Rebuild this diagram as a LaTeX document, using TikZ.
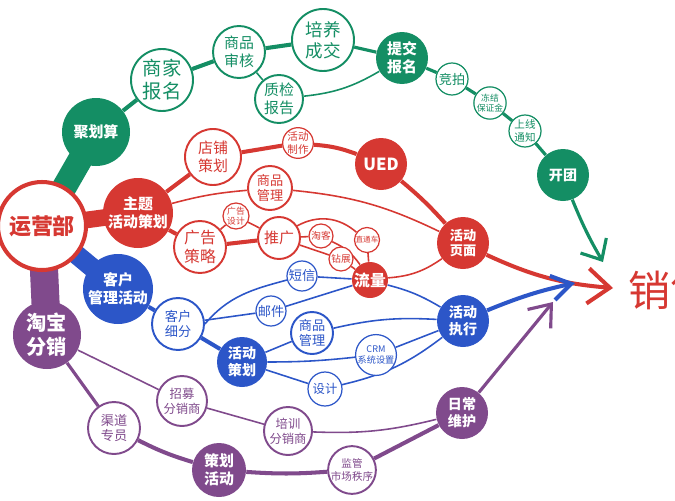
\documentclass[tikz,border=0pt]{standalone}
\usepackage{fontspec}
\setmainfont{Noto Sans CJK SC}
\usetikzlibrary{arrows.meta,backgrounds}

\definecolor{jgreen}{HTML}{148E64}
\definecolor{jred}{HTML}{D63832}
\definecolor{jblue}{HTML}{2C56C8}
\definecolor{jpurple}{HTML}{804A8C}

\tikzset{
    rr/.style={minimum size=#1*0.4mm},
    fs/.style={font=\fontsize{#1}{#1}\linespread{1.2}\selectfont},
    bfs/.style={font=\fontsize{#1}{#1}\linespread{1.2}\selectfont\bfseries},
    hub/.style={circle, draw=#1, line width=2.3pt, fill=white, text=#1, inner sep=0pt},
    full/.style={circle, fill=#1, text=white, inner sep=0pt, align=center},
    ring/.style={circle, draw=#1, line width=1.1pt, fill=white, text=#1, inner sep=0pt, align=center},
    dot/.style={circle, draw=#1, line width=0.7pt, fill=white, text=#1, inner sep=0pt, align=center},
    wfat/.style={line width=2.3pt},
    wmid/.style={line width=1.8pt},
    wslim/.style={line width=0.9pt}
}

\begin{document}
\begin{tikzpicture}[x=0.2mm,y=0.2mm]
        \useasboundingbox (0,0) rectangle (675,-500);

        % Hub
        \node[hub=jred, rr=44, bfs=12.5] (yyb) at (42,-226) {运营部};

        % Green branch
        \node[full=jgreen, rr=34, bfs=8.5] (jhs) at (96,-132) {聚划算};
        \node[ring=jgreen, rr=31, fs=11] (sjbm) at (162,-80) {商家\\报名};
        \node[ring=jgreen, rr=26, fs=8.5] (sphh) at (239,-52) {商品\\审核};
        \node[ring=jgreen, rr=31, fs=10] (pycj) at (323,-40) {培养\\成交};
        \node[full=jgreen, rr=26, bfs=8.5] (tjbm) at (402,-58) {提交\\报名};
        \node[ring=jgreen, rr=24, fs=8.5] (zjbg) at (279,-99) {质检\\报告};
        \node[dot=jgreen, rr=16, fs=7.5] (jp) at (452,-79) {竞拍};
        \node[dot=jgreen, rr=16, fs=5] (djbzj) at (490,-103) {冻结\\保证金};
        \node[dot=jgreen, rr=16, fs=6] (sxtz) at (525,-131) {上线\\通知};
        \node[full=jgreen, rr=26, bfs=8] (kt) at (563,-175) {开团};
        \coordinate (tipG) at (603,-262);

        % Red branch
        \node[full=jred, rr=35, bfs=8.5] (ztch) at (138,-213) {主题\\活动策划};
        \node[ring=jred, rr=28, fs=8.5] (dpch) at (213,-157) {店铺\\策划};
        \node[dot=jred, rr=15, fs=6] (hdzz) at (298,-143) {活动\\制作};
        \node[full=jred, rr=26, bfs=9.5] (ued) at (381,-164) {UED};
        \node[ring=jred, rr=22, fs=7.5] (spgl) at (270,-188) {商品\\管理};
        \node[dot=jred, rr=13, fs=5] (ggsj) at (236,-216) {广告\\设计};
        \node[ring=jred, rr=26, fs=9] (ggcl) at (200,-247) {广告\\策略};
        \node[ring=jred, rr=21, fs=8.5] (tg) at (279,-238) {推广};
        \node[dot=jred, rr=12, fs=5.5] (tk) at (321,-236) {淘客};
        \node[dot=jred, rr=12, fs=5.5] (zz) at (341,-259) {钻展};
        \node[dot=jred, rr=12.5, fs=4.3] (ztc) at (367,-240) {直通车};
        \node[full=jred, rr=18, bfs=9] (ll) at (370,-280) {流量};
        \node[full=jred, rr=26, bfs=7.5] (hdym) at (463,-243) {活动\\页面};
        \coordinate (tipR) at (613,-288);
        \node[anchor=west, text=jred, fs=24] (xs) at (622,-290) {销售};

        % Blue branch
        \node[full=jblue, rr=35, bfs=8.5] (khgl) at (118,-289) {客户\\管理活动};
        \node[ring=jblue, rr=26, fs=7.5] (khxf) at (178,-324) {客户\\细分};
        \node[full=jblue, rr=25, bfs=8] (hdch) at (242,-362) {活动\\策划};
        \node[dot=jblue, rr=15, fs=7.5] (dx) at (302,-276) {短信};
        \node[dot=jblue, rr=15, fs=7.5] (yj) at (271,-311) {邮件};
        \node[ring=jblue, rr=21, fs=7.5] (spglb) at (312,-333) {商品\\管理};
        \node[dot=jblue, rr=18, fs=5.2] (crm) at (376,-355) {CRM\\系统设置};
        \node[dot=jblue, rr=17, fs=7] (sj) at (325,-389) {设计};
        \node[full=jblue, rr=26, bfs=8] (hdzx) at (463,-321) {活动\\执行};
        \coordinate (tipB) at (575,-283);

        % Purple branch
        \node[full=jpurple, rr=34, bfs=11.5] (tbfx) at (47,-335) {淘宝\\分销};
        \node[ring=jpurple, rr=25, fs=7] (zmfxs) at (182,-401) {招募\\分销商};
        \node[ring=jpurple, rr=26, fs=7.5] (qdzy) at (114,-428) {渠道\\专员};
        \node[ring=jpurple, rr=24, fs=7] (pxfxs) at (288,-431) {培训\\分销商};
        \node[full=jpurple, rr=27, bfs=8.5] (chhd) at (219,-470) {策划\\活动};
        \node[ring=jpurple, rr=23, fs=6] (jgsc) at (352,-470) {监管\\市场秩序};
        \node[full=jpurple, rr=26, bfs=8] (rcwh) at (462,-413) {日常\\维护};
        \coordinate (tipP) at (553,-302);

        \begin{scope}[on background layer]
            % Trunks
            \draw[jgreen, line width=14pt] (yyb.center) -- (jhs.center);
            \draw[jred, line width=9.5pt] (yyb.center) -- (ztch.center);
            \draw[jblue, line width=11pt] (yyb.center) -- (khgl.center);
            \draw[jpurple, line width=16pt] (yyb.center) -- (tbfx.center);

            % Green links
            \draw[jgreen, wfat] (jhs) -- (sjbm) -- (sphh) -- (pycj);
            \draw[jgreen, wmid] (pycj) -- (tjbm) -- (jp) -- (djbzj) -- (sxtz) -- (kt);
            \draw[jgreen, wslim] (sphh) -- (zjbg);
            \draw[jgreen, wslim] (zjbg) to[bend right=12] (tjbm);
            \draw[jgreen, wmid, -{Straight Barb[length=9.5pt,width=17pt]}] (kt) to[bend right=4] (tipG);

            % Red links
            \draw[jred, wfat] (ztch) -- (dpch) -- (hdzz);
            \draw[jred, wfat] (hdzz) to[bend left=8] (ued);
            \draw[jred, wfat] (ued) to[bend left=4] (hdym);
            \draw[jred, wslim] (ztch) to[bend left=5] (spgl);
            \draw[jred, wslim] (spgl) to[bend left=10] (hdym);
            \draw[jred, wfat] (ztch) -- (ggcl) -- (tg);
            \draw[jred, wslim] (ggcl) -- (ggsj) -- (tg);
            \draw[jred, wslim] (tg) -- (tk);
            \draw[jred, wslim] (tk) to[bend left=15] (ll);
            \draw[jred, wslim] (tg) to[bend left=35] (ztc);
            \draw[jred, wslim] (ztc) -- (ll);
            \draw[jred, wslim] (tg) -- (zz) -- (ll);
            \draw[jred, wslim] (ll) to[bend right=15] (hdym);
            \draw[jred, wfat, -{Straight Barb[length=12.5pt,width=20pt]}] (hdym) to[bend right=10] (tipR);

            % Blue links
            \draw[jblue, wfat] (khgl) -- (khxf) -- (hdch);
            \draw[jblue, wslim] (khxf.east) to[out=50, in=195] (dx);
            \draw[jblue, wslim] (khxf) -- (yj);
            \draw[jblue, wslim] (dx) -- (ll);
            \draw[jblue, wslim] (yj) -- (ll);
            \draw[jblue, wslim] (ll) to[bend left=8] (hdzx);
            \draw[jblue, wslim] (hdch) -- (spglb);
            \draw[jblue, wslim] (spglb) to[bend left=8] (hdzx);
            \draw[jblue, wslim] (hdch) to[bend right=3] (crm);
            \draw[jblue, wslim] (crm) -- (hdzx);
            \draw[jblue, wslim] (hdch) -- (sj);
            \draw[jblue, wslim] (sj) to[bend right=12] (hdzx);
            \draw[jblue, wfat, -{Straight Barb[length=11pt,width=14pt]}] (hdzx) to[bend left=5] (tipB);

            % Purple links
            \draw[jpurple, wslim] (tbfx) -- (zmfxs);
            \draw[jpurple, wslim] (zmfxs) -- (pxfxs);
            \draw[jpurple, wslim] (pxfxs) to[bend right=8] (rcwh);
            \draw[jpurple, wmid] (tbfx) -- (qdzy);
            \draw[jpurple, wfat] (qdzy) to[bend right=5] (chhd);
            \draw[jpurple, wfat] (chhd) to[bend right=4] (jgsc);
            \draw[jpurple, wfat] (jgsc) -- (rcwh);
            \draw[jpurple, wmid, -{Straight Barb[length=11pt,width=17pt]}] (rcwh) -- (tipP);
        \end{scope}
    \end{tikzpicture}
\end{document}
